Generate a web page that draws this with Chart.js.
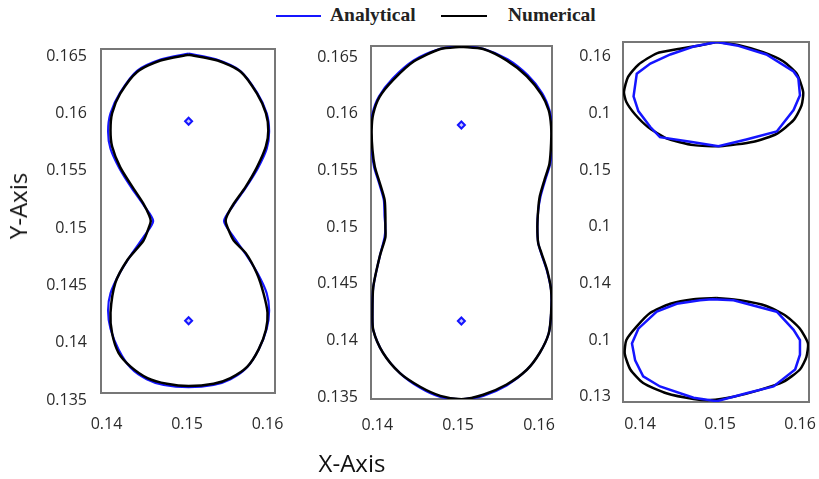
<!DOCTYPE html>
<html>
<head>
    <meta charset="utf-8">
    <title>Analytical vs Numerical</title>
    <script src="https://cdn.jsdelivr.net/npm/chart.js"></script>
    <style>
        body { margin: 0; background: #fff; }
        #page { position: relative; width: 819px; height: 479px; overflow: hidden; background: #fff; }
        canvas { position: absolute; }
        .legText { position: absolute; top: 3px; line-height: 24px; font-family: "Liberation Serif", serif; font-weight: bold; font-size: 19.5px; color: #222; white-space: nowrap; }
        .legLine { position: absolute; top: 15px; height: 2px; }
        .axisTitle { position: absolute; font-family: "Open Sans", sans-serif; font-size: 24px; line-height: 1; color: #111; white-space: nowrap; }
    </style>
</head>
<body>
<div id="page">
    <div class="legLine" style="left:276px;width:45px;background:#1515ff"></div>
    <div class="legText" style="left:330px">Analytical</div>
    <div class="legLine" style="left:441px;width:46px;background:#000"></div>
    <div class="legText" style="left:508px">Numerical</div>

    <canvas id="leftChart" width="280" height="400" style="left:20px;top:40px"></canvas>
    <canvas id="midChart" width="287" height="404" style="left:290px;top:36px"></canvas>
    <canvas id="rightChart" width="259" height="408" style="left:560px;top:32px"></canvas>

    <div class="axisTitle" style="left:18px;top:206px;transform:translate(-50%,-50%) rotate(-90deg)">Y-Axis</div>
    <div class="axisTitle" style="left:352px;top:463px;transform:translate(-50%,-50%)">X-Axis</div>
</div>

<script>
// tick values and labels
const xTickValues = [0.14, 0.15, 0.16];
const xTickLabels = ['0.14', '0.15', '0.16'];
const yTickValues = [0.135, 0.14, 0.145, 0.15, 0.155, 0.16, 0.165];
const yTickLabels = ['0.135', '0.14', '0.145', '0.15', '0.155', '0.16', '0.165'];
// the right panel's labels are cut off in the original
const yTickLabelsCut = ['0.13', '0.1', '0.14', '0.1', '0.15', '0.1', '0.16'];

// left panel: peanut shape
const leftAnalytical = [[0.1502,0.1646],[0.1536,0.1641],[0.1566,0.1631],[0.1587,0.1612],[0.1599,0.1594],[0.1602,0.1578],[0.1599,0.1563],[0.1588,0.1546],[0.1573,0.1529],[0.1557,0.1513],[0.1546,0.1500],[0.1557,0.1487],[0.1573,0.1471],[0.1588,0.1454],[0.1599,0.1437],[0.1602,0.1422],[0.1599,0.1406],[0.1589,0.1388],[0.1574,0.1372],[0.1554,0.1362],[0.1533,0.1357],[0.1502,0.1355],[0.1471,0.1357],[0.1450,0.1362],[0.1430,0.1372],[0.1415,0.1388],[0.1405,0.1406],[0.1402,0.1422],[0.1405,0.1437],[0.1416,0.1454],[0.1431,0.1471],[0.1447,0.1487],[0.1458,0.1500],[0.1447,0.1513],[0.1431,0.1529],[0.1416,0.1546],[0.1405,0.1563],[0.1402,0.1578],[0.1405,0.1594],[0.1417,0.1612],[0.1438,0.1631],[0.1468,0.1641],[0.1502,0.1646]];
const leftNumerical = [[0.1502,0.1645],[0.1538,0.1640],[0.1567,0.1630],[0.1587,0.1611],[0.1598,0.1594],[0.1601,0.1579],[0.1598,0.1565],[0.1587,0.1547],[0.1573,0.1530],[0.1558,0.1515],[0.1550,0.1505],[0.1548,0.1500],[0.1550,0.1495],[0.1558,0.1483],[0.1573,0.1472],[0.1587,0.1454],[0.1595,0.1437],[0.1600,0.1420],[0.1598,0.1405],[0.1589,0.1388],[0.1575,0.1373],[0.1554,0.1363],[0.1533,0.1358],[0.1502,0.1356],[0.1475,0.1358],[0.1451,0.1363],[0.1430,0.1373],[0.1415,0.1385],[0.1407,0.1402],[0.1405,0.1420],[0.1411,0.1446],[0.1426,0.1466],[0.1446,0.1483],[0.1453,0.1495],[0.1455,0.1500],[0.1453,0.1505],[0.1446,0.1515],[0.1432,0.1530],[0.1417,0.1547],[0.1407,0.1565],[0.1405,0.1579],[0.1407,0.1594],[0.1417,0.1611],[0.1438,0.1630],[0.1467,0.1640],[0.1502,0.1645]];
const leftCenters = [[0.1502,0.1587],[0.1502,0.1413]];

// middle panel: capsule shape
const midAnalytical = [[0.1504,0.1660],[0.1532,0.1657],[0.1561,0.1648],[0.1586,0.1634],[0.1604,0.1618],[0.1613,0.1603],[0.1616,0.1589],[0.1616,0.1573],[0.1614,0.1556],[0.1608,0.1542],[0.1602,0.1527],[0.1599,0.1514],[0.1598,0.1500],[0.1599,0.1486],[0.1603,0.1476],[0.1610,0.1461],[0.1615,0.1444],[0.1615,0.1424],[0.1612,0.1406],[0.1601,0.1389],[0.1585,0.1374],[0.1560,0.1360],[0.1531,0.1351],[0.1504,0.1348],[0.1478,0.1350],[0.1453,0.1358],[0.1428,0.1371],[0.1407,0.1389],[0.1395,0.1409],[0.1394,0.1424],[0.1395,0.1447],[0.1403,0.1474],[0.1409,0.1491],[0.1410,0.1500],[0.1409,0.1509],[0.1408,0.1524],[0.1402,0.1539],[0.1396,0.1553],[0.1393,0.1568],[0.1392,0.1586],[0.1394,0.1600],[0.1402,0.1615],[0.1419,0.1631],[0.1445,0.1647],[0.1477,0.1657],[0.1504,0.1660]];
const midNumerical = [[0.1504,0.1659],[0.1531,0.1657],[0.1560,0.1647],[0.1585,0.1633],[0.1603,0.1617],[0.1612,0.1603],[0.1615,0.1589],[0.1615,0.1574],[0.1613,0.1556],[0.1607,0.1542],[0.1601,0.1527],[0.1599,0.1515],[0.1598,0.1500],[0.1599,0.1486],[0.1603,0.1477],[0.1610,0.1462],[0.1615,0.1444],[0.1615,0.1424],[0.1612,0.1406],[0.1601,0.1389],[0.1585,0.1374],[0.1560,0.1361],[0.1531,0.1352],[0.1504,0.1348],[0.1478,0.1351],[0.1453,0.1359],[0.1428,0.1371],[0.1407,0.1389],[0.1395,0.1409],[0.1394,0.1424],[0.1395,0.1447],[0.1403,0.1474],[0.1410,0.1491],[0.1410,0.1500],[0.1410,0.1509],[0.1409,0.1524],[0.1403,0.1539],[0.1397,0.1553],[0.1394,0.1568],[0.1393,0.1586],[0.1395,0.1600],[0.1403,0.1615],[0.1420,0.1630],[0.1445,0.1646],[0.1478,0.1657],[0.1504,0.1659]];
const midCenters = [[0.1504,0.1590],[0.1504,0.1417]];

// right panel: two separate ellipses
const rightUpperAnalytical = [[0.1496,0.1663],[0.1521,0.1660],[0.1558,0.1652],[0.1592,0.1637],[0.1598,0.1631],[0.1600,0.1616],[0.1592,0.1603],[0.1571,0.1584],[0.1533,0.1577],[0.1498,0.1571],[0.1463,0.1575],[0.1425,0.1579],[0.1413,0.1588],[0.1398,0.1602],[0.1392,0.1615],[0.1396,0.1635],[0.1413,0.1644],[0.1438,0.1652],[0.1467,0.1659],[0.1496,0.1663]];
const rightUpperNumerical = [[0.1496,0.1663],[0.1525,0.1660],[0.1554,0.1654],[0.1579,0.1646],[0.1596,0.1635],[0.1604,0.1619],[0.1602,0.1607],[0.1592,0.1594],[0.1571,0.1582],[0.1542,0.1575],[0.1500,0.1571],[0.1467,0.1572],[0.1433,0.1578],[0.1410,0.1588],[0.1394,0.1599],[0.1383,0.1610],[0.1380,0.1619],[0.1385,0.1632],[0.1398,0.1643],[0.1421,0.1653],[0.1450,0.1657],[0.1475,0.1660],[0.1496,0.1663]];
const rightLowerAnalytical = [[0.1490,0.1436],[0.1517,0.1435],[0.1571,0.1425],[0.1592,0.1409],[0.1600,0.1400],[0.1600,0.1387],[0.1594,0.1374],[0.1567,0.1359],[0.1533,0.1353],[0.1496,0.1346],[0.1467,0.1349],[0.1425,0.1359],[0.1404,0.1368],[0.1394,0.1382],[0.1390,0.1397],[0.1398,0.1410],[0.1421,0.1425],[0.1446,0.1432],[0.1475,0.1435],[0.1490,0.1436]];
const rightLowerNumerical = [[0.1496,0.1437],[0.1525,0.1435],[0.1558,0.1430],[0.1583,0.1421],[0.1600,0.1410],[0.1610,0.1397],[0.1608,0.1385],[0.1600,0.1374],[0.1579,0.1363],[0.1550,0.1356],[0.1517,0.1350],[0.1488,0.1347],[0.1467,0.1348],[0.1433,0.1353],[0.1404,0.1362],[0.1388,0.1374],[0.1381,0.1388],[0.1383,0.1400],[0.1396,0.1412],[0.1413,0.1424],[0.1438,0.1432],[0.1467,0.1436],[0.1496,0.1437]];

const blue = '#1515ff';
const tickFont = { family: 'Open Sans', size: 16 };
const tickColor = '#2a2a2a';

const pts = arr => arr.map(p => ({ x: p[0], y: p[1] }));

function curve(arr, color, width, tension, order) {
    return { data: pts(arr), showLine: true, borderColor: color, borderWidth: width,
             pointRadius: 0, tension: tension, order: order, fill: false };
}

function centers(arr) {
    return { data: pts(arr), showLine: false, pointStyle: 'rectRot', pointRadius: 3.5,
             borderColor: blue, borderWidth: 2, backgroundColor: '#c8c8ff', order: 5 };
}

// plot frame, drawn under the lines
const framePlugin = {
    id: 'frame',
    beforeDatasetsDraw(chart) {
        const a = chart.chartArea, c = chart.ctx;
        c.save();
        c.strokeStyle = '#777';
        c.lineWidth = 2;
        c.strokeRect(a.left, a.top, a.right - a.left, a.bottom - a.top);
        c.restore();
    }
};

// keep the plot area where the layout puts it (no room reserved for label overhang)
function noOverhang(s) {
    s.paddingLeft = 0; s.paddingRight = 0; s.paddingTop = 0; s.paddingBottom = 0;
}

function drawPanel(id, datasets, cfg) {
    new Chart(document.getElementById(id), {
        type: 'scatter',
        data: { datasets: datasets },
        options: {
            responsive: false,
            animation: false,
            events: [],
            layout: { padding: { top: cfg.padTop, right: cfg.padRight, left: 0, bottom: 0 } },
            plugins: { legend: { display: false }, tooltip: { enabled: false } },
            scales: {
                x: {
                    type: 'linear', min: cfg.xMin, max: cfg.xMax,
                    grid: { display: false, drawTicks: false }, border: { display: false },
                    afterBuildTicks: s => { s.ticks = xTickValues.map(v => ({ value: v })); },
                    afterFit: s => { s.height = cfg.xAxisH; noOverhang(s); },
                    ticks: { color: tickColor, font: tickFont, padding: cfg.xPad, autoSkip: false, maxRotation: 0,
                             callback: (v, i) => xTickLabels[i] }
                },
                y: {
                    type: 'linear', min: cfg.yMin, max: cfg.yMax,
                    grid: { display: false, drawTicks: false }, border: { display: false },
                    afterBuildTicks: s => { s.ticks = yTickValues.map(v => ({ value: v })); },
                    afterFit: s => { s.width = cfg.yAxisW; noOverhang(s); },
                    ticks: { color: tickColor, font: tickFont, padding: cfg.yPad, autoSkip: false,
                             labelOffset: cfg.yLabelOffset || 0,
                             callback: (v, i) => cfg.yLabels[i] }
                }
            }
        },
        plugins: [framePlugin]
    });
}

drawPanel('leftChart', [
    curve(leftNumerical, '#000', 2.5, 0.25, 0),
    curve(leftAnalytical, blue, 2.2, 0.25, 1),
    centers(leftCenters)
], { xMin: 0.13932, xMax: 0.16093, yMin: 0.135, yMax: 0.165, padTop: 9, padRight: 25,
     yAxisW: 81, xAxisH: 47, xPad: 22, yPad: 14, yLabelOffset: 7, yLabels: yTickLabels });

drawPanel('midChart', [
    curve(midNumerical, '#000', 2.5, 0.25, 0),
    curve(midAnalytical, blue, 2.2, 0.25, 1),
    centers(midCenters)
], { xMin: 0.13922, xMax: 0.16161, yMin: 0.13482, yMax: 0.16597, padTop: 10, padRight: 25,
     yAxisW: 81, xAxisH: 41, xPad: 17, yPad: 13, yLabels: yTickLabels });

drawPanel('rightChart', [
    curve(rightUpperNumerical, '#000', 2.5, 0.2, 1),
    curve(rightLowerNumerical, '#000', 2.5, 0.2, 1),
    curve(rightUpperAnalytical, blue, 2.5, 0, 0),
    curve(rightLowerAnalytical, blue, 2.5, 0, 0)
], { xMin: 0.13788, xMax: 0.16113, yMin: 0.13453, yMax: 0.1663, padTop: 10, padRight: 10,
     yAxisW: 63, xAxisH: 38, xPad: 13, yPad: 12, yLabels: yTickLabelsCut });
</script>
</body>
</html>
